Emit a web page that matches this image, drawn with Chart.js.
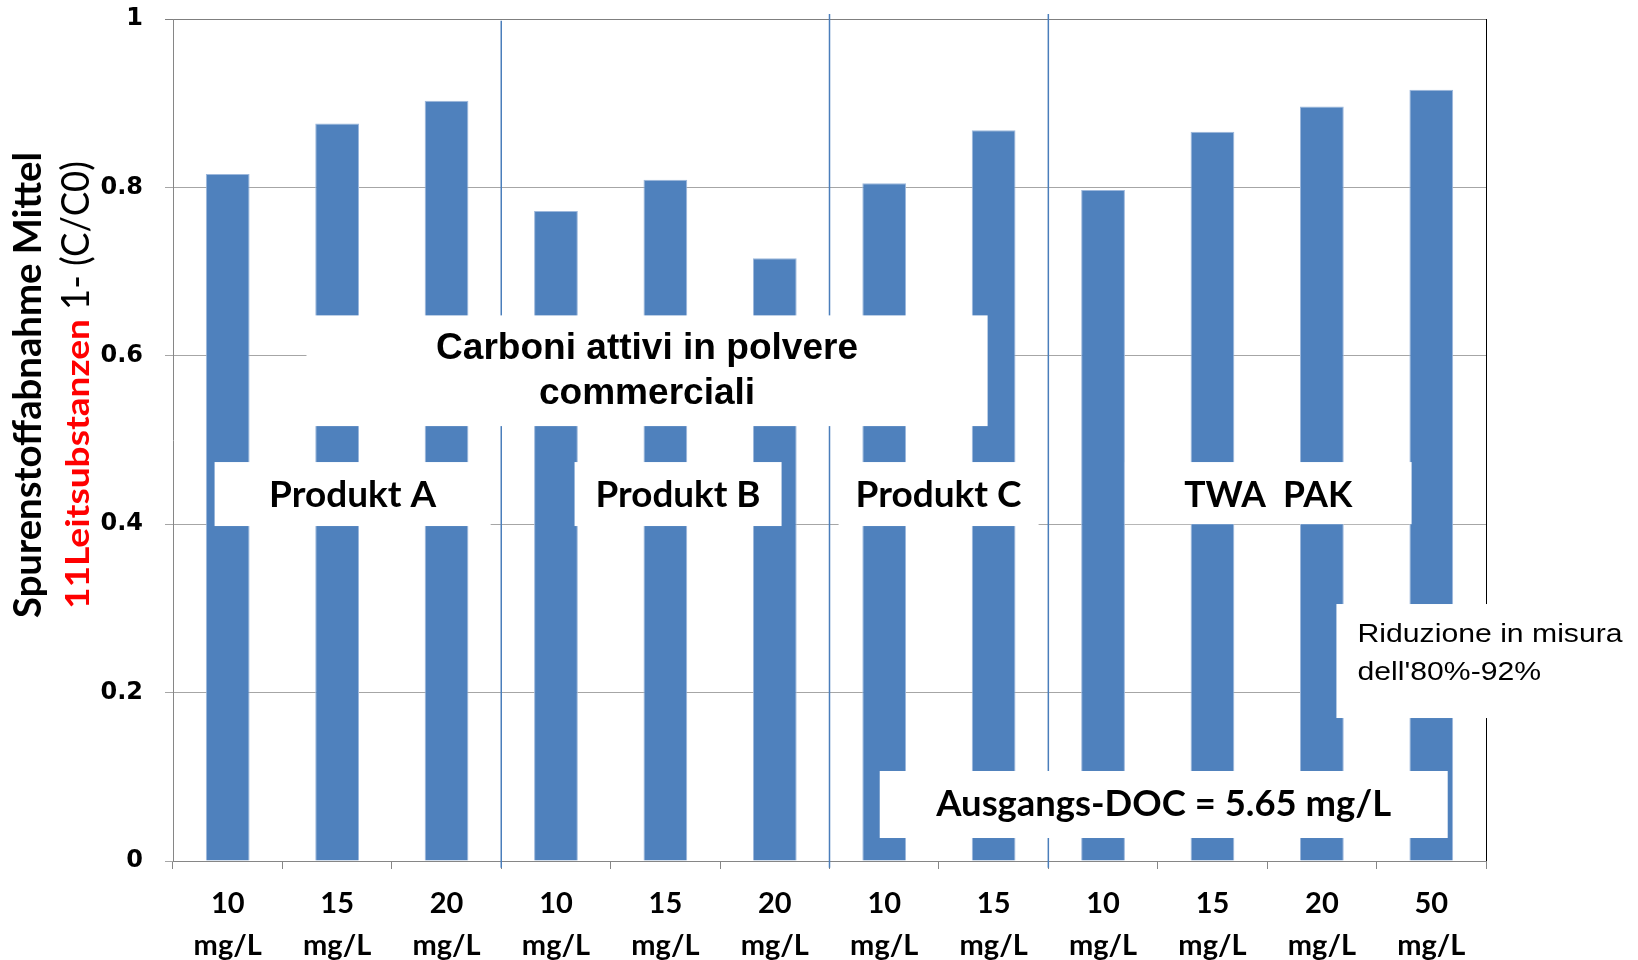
<!DOCTYPE html>
<html>
<head>
<meta charset="utf-8">
<script src="https://cdn.jsdelivr.net/npm/chart.js@4.4.1/dist/chart.umd.min.js"></script>
<style>
  html, body { margin: 0; padding: 0; background: #fff; }
</style>
</head>
<body>
<canvas id="removalChart" width="1638" height="960"></canvas>
<script>
// dosi di carbone attivo (etichette asse x, due righe)
const doses = [
  ['10', 'mg/L'], ['15', 'mg/L'], ['20', 'mg/L'],
  ['10', 'mg/L'], ['15', 'mg/L'], ['20', 'mg/L'],
  ['10', 'mg/L'], ['15', 'mg/L'],
  ['10', 'mg/L'], ['15', 'mg/L'], ['20', 'mg/L'], ['50', 'mg/L']
];
// 1 - C/C0, media delle 11 sostanze guida
const removal = [0.816, 0.876, 0.903, 0.772, 0.809, 0.716, 0.805, 0.868, 0.797, 0.866, 0.896, 0.916];
const yTicks = [0, 0.2, 0.4, 0.6, 0.8, 1];
const groups = ['Produkt A', 'Produkt B', 'Produkt C', 'TWA  PAK'];

// linee di separazione tra i prodotti (in unità di categoria / valore)
const separators = [
  { at: 2.5, from: -0.008, to: 0.998 },
  { at: 5.5, from: -0.008, to: 1.006 },
  { at: 7.5, from: -0.008, to: 1.006 }
];

// riquadri bianchi con testo, box = [x0, x1, yBasso, yAlto]
const notes = [
  { box: [0.72, 6.945, 0.5165, 0.648], lines: ['Carboni attivi in polvere', 'commerciali'], at: [0.608, 0.5545],
    font: 'bold 36px "Liberation Sans"', fit: 422, align: 'center' },
  { box: [-0.12, 2.403, 0.3978, 0.4738], lines: [groups[0]], at: [0.434], font: 'bold 36px Lato', fit: 167, align: 'center' },
  { box: [3.170, 5.062, 0.3978, 0.4738], lines: [groups[1]], at: [0.434], font: 'bold 36px Lato', fit: 165, align: 'center' },
  { box: [5.583, 7.411, 0.3978, 0.4738], lines: [groups[2]], at: [0.434], font: 'bold 36px Lato', fit: 166, align: 'center' },
  { box: [8.2, 10.82, 0.400, 0.4738], lines: [groups[3]], at: [0.434], font: 'bold 36px Lato', fit: 168, align: 'center' },
  { box: [5.959, 11.15, 0.0273, 0.1069], lines: ['Ausgangs-DOC = 5.65 mg/L'], at: [0.0671], font: 'bold 36px Lato', fit: 455, align: 'center' },
  { box: [10.133, 13.0, 0.1698, 0.3052], lines: ['Riduzione in misura', "dell'80%-92%"], at: [0.2683, 0.2238],
    font: '26px "Liberation Sans"', fit: 265, align: 'left', textX: 10.326 }
];

function fitLine(ctx, text, x, y, scale, align) {
  ctx.save();
  ctx.translate(x, y);
  ctx.scale(scale, 1);
  ctx.textAlign = align;
  ctx.fillText(text, 0, 0);
  ctx.restore();
}

const overlayPlugin = {
  id: 'overlay',
  afterDatasetsDraw(chart) {
    const { ctx, chartArea, scales: { x, y } } = chart;
    ctx.save();
    ctx.strokeStyle = '#4A7EBB';
    ctx.lineWidth = 1.5;
    separators.forEach(s => {
      const px = x.getPixelForValue(s.at);
      ctx.beginPath();
      ctx.moveTo(px, y.getPixelForValue(s.from));
      ctx.lineTo(px, y.getPixelForValue(s.to));
      ctx.stroke();
    });
    // bordo destro dell'area
    ctx.strokeStyle = '#000';
    ctx.lineWidth = 1;
    ctx.beginPath();
    ctx.moveTo(chartArea.right + 0.5, chartArea.top);
    ctx.lineTo(chartArea.right + 0.5, chartArea.bottom);
    ctx.stroke();

    notes.forEach(n => {
      const l = x.getPixelForValue(n.box[0]), r = x.getPixelForValue(n.box[1]);
      const t = y.getPixelForValue(n.box[3]), b = y.getPixelForValue(n.box[2]);
      ctx.fillStyle = '#fff';
      ctx.fillRect(l, t, r - l, b - t);
      ctx.fillStyle = '#000';
      ctx.font = n.font;
      ctx.textBaseline = 'middle';
      const scale = n.fit / ctx.measureText(n.lines[0]).width;
      const tx = n.align === 'left' ? x.getPixelForValue(n.textX) : (l + r) / 2;
      n.lines.forEach((line, i) => fitLine(ctx, line, tx, y.getPixelForValue(n.at[i]), scale, n.align));
    });
    ctx.restore();
  },
  afterDraw(chart) {
    // titolo asse y, ruotato, con parte rossa
    const { ctx } = chart;
    ctx.save();
    ctx.textBaseline = 'alphabetic';
    ctx.textAlign = 'left';

    ctx.save();
    ctx.translate(40.7, 618);
    ctx.rotate(-Math.PI / 2);
    ctx.font = 'bold 39px Lato';
    ctx.fillStyle = '#000';
    const t1 = 'Spurenstoffabnahme Mittel';
    fitLine(ctx, t1, 0, 0, 466 / ctx.measureText(t1).width, 'left');
    ctx.restore();

    ctx.save();
    ctx.translate(89.3, 609);
    ctx.rotate(-Math.PI / 2);
    ctx.font = 'bold 33px Lato';
    ctx.fillStyle = '#FF0000';
    const t2 = '11Leitsubstanzen';
    fitLine(ctx, t2, 0, 0, 290 / ctx.measureText(t2).width, 'left');
    ctx.font = '38px Lato';
    ctx.fillStyle = '#000';
    const t3 = '1- (C/C0)';
    fitLine(ctx, t3, 299, 0, 149 / ctx.measureText(t3).width, 'left');
    ctx.restore();

    ctx.restore();
  }
};

const ctx = document.getElementById('removalChart');
const removalChart = new Chart(ctx, {
  type: 'bar',
  data: {
    labels: doses,
    datasets: [{
      data: removal,
      backgroundColor: '#4F81BD',
      borderColor: '#9DB8DC',
      borderWidth: 1,
      barPercentage: 0.4,
      categoryPercentage: 1
    }]
  },
  options: {
    responsive: false,
    animation: false,
    layout: { padding: { top: 19, right: 152, left: 0, bottom: 0 } },
    plugins: {
      legend: { display: false },
      tooltip: { enabled: false }
    },
    scales: {
      x: {
        afterFit: s => { s.height = 99; },
        grid: { drawOnChartArea: false, drawTicks: true, tickLength: 8, color: '#868686', offset: true },
        border: { color: '#868686' },
        ticks: {
          color: '#000',
          font: { family: 'Lato', weight: 'bold', size: 29, lineHeight: 1.45 },
          padding: 14,
          maxRotation: 0,
          autoSkip: false
        }
      },
      y: {
        min: 0,
        max: 1,
        afterFit: s => { s.width = 173; s.paddingTop = 0; s.paddingBottom = 0; },
        afterBuildTicks: s => { s.ticks = yTicks.map(v => ({ value: v })); },
        grid: {
          tickLength: 8,
          color: c => (c.tick && c.tick.value === 1 ? '#7F7F7F' : '#A6A6A6')
        },
        border: { color: '#868686' },
        ticks: {
          color: '#000',
          font: { family: 'DejaVu Sans', weight: 'bold', size: 24 },
          padding: 22,
          callback: v => String(v)
        }
      }
    }
  },
  plugins: [overlayPlugin]
});
</script>
</body>
</html>
